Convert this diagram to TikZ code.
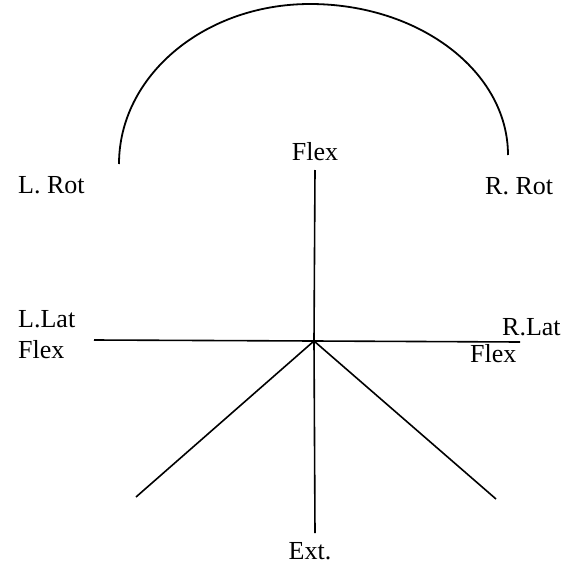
\documentclass[tikz,border=0pt]{standalone}
\usepackage{fontspec}
\setmainfont{Liberation Serif}
\begin{document}
\begin{tikzpicture}[x=1pt,y=-1pt,
  axis/.style={line width=1.6pt,black},
  lbl/.style={inner sep=0pt,font=\fontsize{26}{31}\selectfont}]
\useasboundingbox (0,0) rectangle (576,565);
% coordinates
\coordinate (O) at (314,341);
\coordinate (T) at (315,170);
\coordinate (B) at (315,533);
\coordinate (Lh) at (94,340);
\coordinate (Rh) at (520,342);
\coordinate (DL) at (136,497);
\coordinate (DR) at (496,499);
\coordinate (AL) at (119,164);
\coordinate (AT) at (310,4);
\coordinate (AR) at (508,155);
% lines
\draw[axis] (T) -- (O) -- (B);
\draw[axis] (Lh) -- (O) -- (Rh);
\draw[axis] (O) -- (DL);
\draw[axis] (O) -- (DR);
% arc
\draw[axis,line width=1.8pt] (AL) .. controls (119,75.6) and (204.5,4) .. (AT)
  .. controls (419.4,4) and (508,71.6) .. (AR);
% labels
\node[lbl,anchor=base west] (lrot) at (18,193) {L. Rot};
\node[lbl,anchor=base] (flext) at (315,160) {Flex};
\node[lbl,anchor=base west] (rrot) at (485,194) {R. Rot};
\node[lbl,anchor=base west] (llat) at (18,327) {L.Lat};
\node[lbl,anchor=base west] (lflex) at (18,358) {Flex};
\node[lbl,anchor=base west] (rlat) at (502,335) {R.Lat};
\node[lbl,anchor=base west] (rflex) at (470,362) {Flex};
\node[lbl,anchor=base] (ext) at (310,559) {Ext.};
\end{tikzpicture}
\end{document}
